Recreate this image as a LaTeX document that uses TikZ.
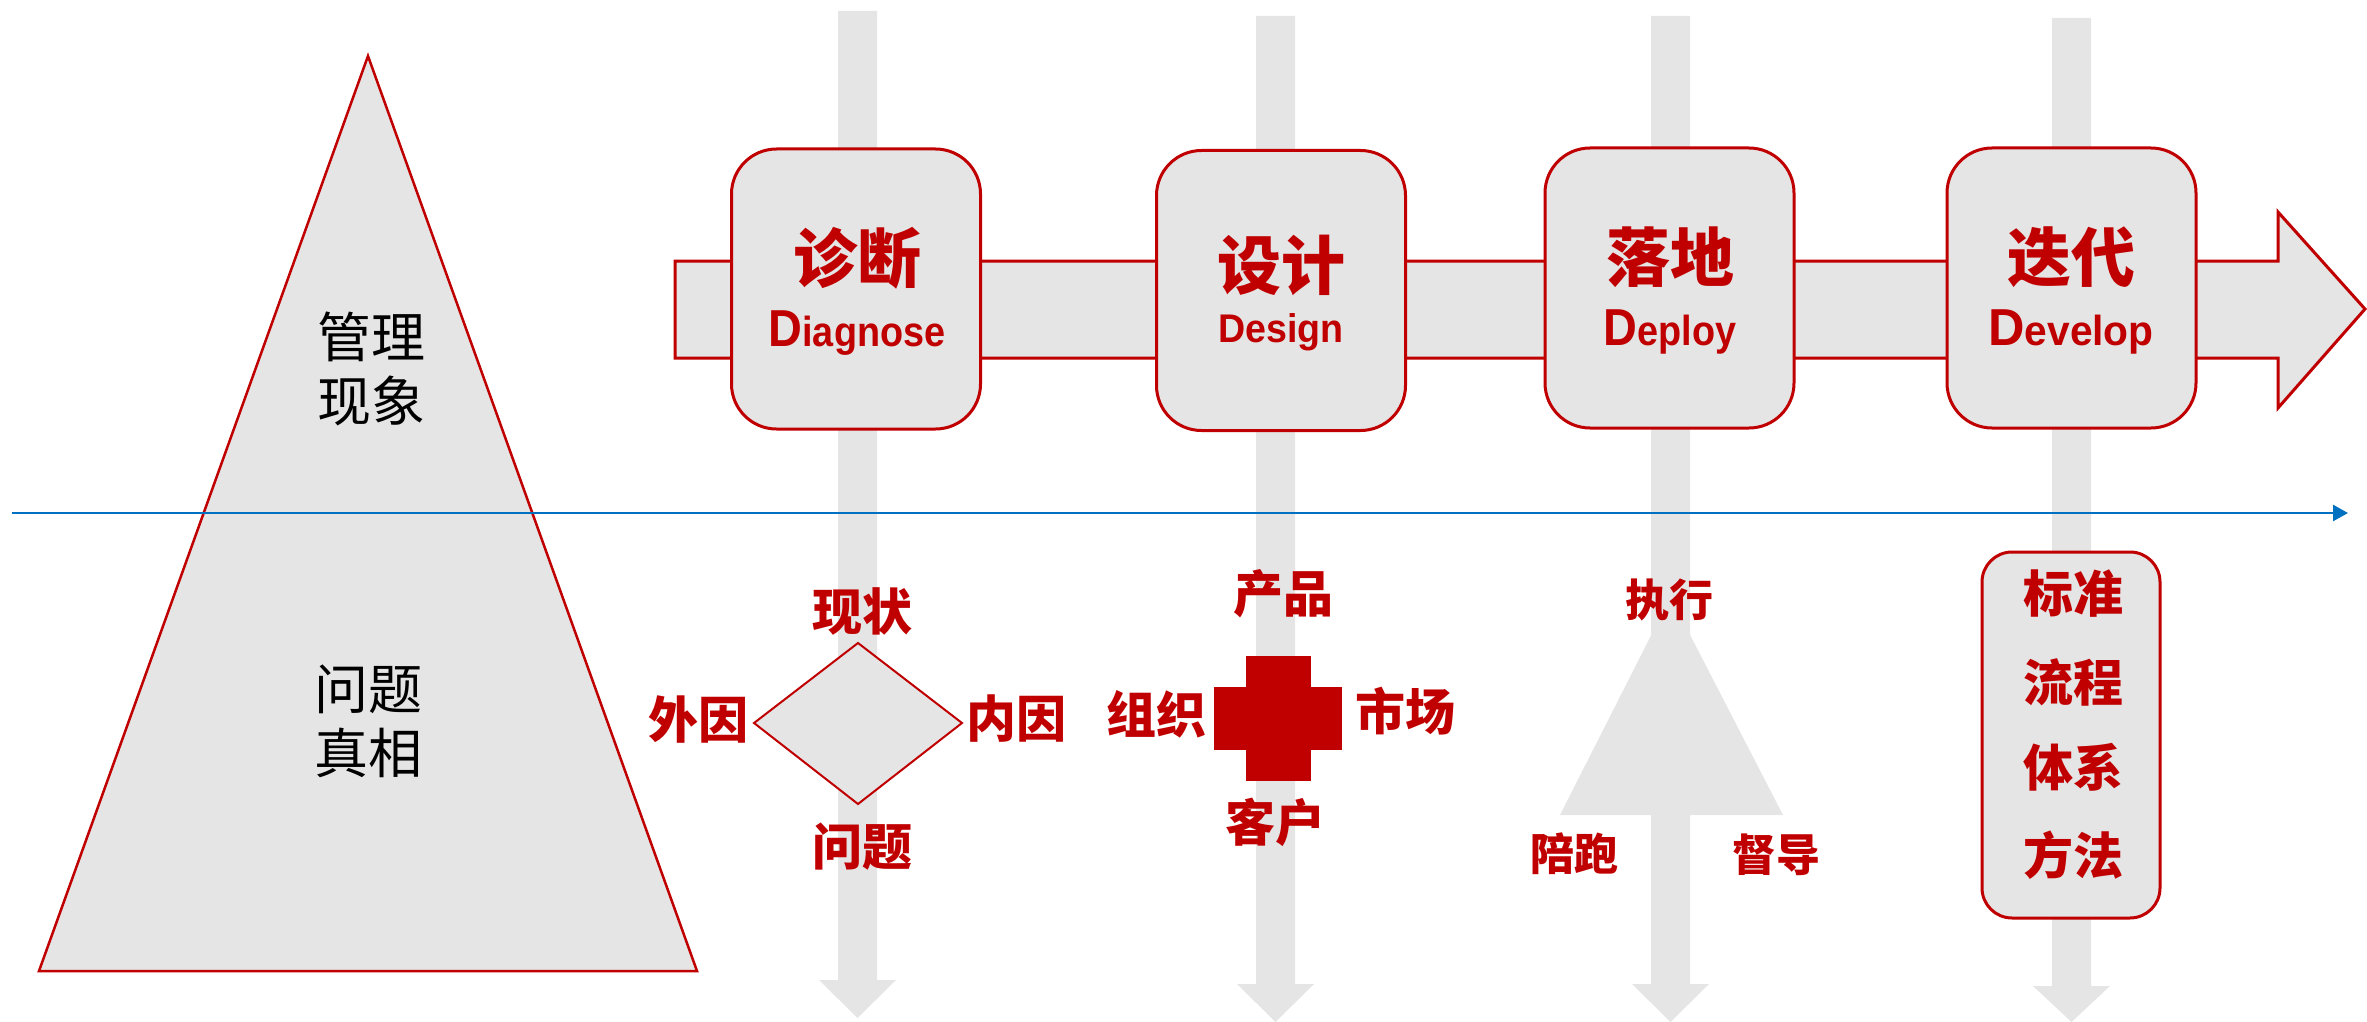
\documentclass[tikz,border=0pt]{standalone}
\usepackage{fontspec}
\setmainfont{Liberation Sans}
\newfontfamily\cjk{Noto Sans CJK SC}
\usetikzlibrary{arrows.meta}
\definecolor{cred}{HTML}{C00000}
\definecolor{lgray}{HTML}{E5E5E5}
\definecolor{cblue}{HTML}{0070C0}
\newcommand\bigD{{\fontsize{52}{52}\selectfont D}}
\tikzset{
  gbar/.style={fill=lgray, draw=none},
  stagebox/.style={draw=cred, line width=3pt, fill=lgray, rounded corners=45pt,
    minimum width=249pt, minimum height=280pt, inner sep=0pt},
  ttl/.style={text=cred, inner sep=0pt, font=\cjk\bfseries\fontsize{64}{64}\selectfont},
  sub/.style={text=cred, inner sep=0pt, anchor=base, font=\bfseries\fontsize{42}{42}\selectfont},
  lbl/.style={text=cred, inner sep=0pt, font=\cjk\bfseries\fontsize{50}{50}\selectfont},
  slbl/.style={text=cred, inner sep=0pt, font=\cjk\bfseries\fontsize{44}{44}\selectfont},
  blk/.style={text=black, inner sep=0pt, align=center, font=\cjk\fontsize{54}{64}\selectfont},
  redshape/.style={draw=cred, line width=2.5pt, fill=lgray},
}
\begin{document}
\begin{tikzpicture}[x=1pt,y=-1pt]
\useasboundingbox (0,0) rectangle (2367,1022);
% vertical gray arrows
\foreach \cx/\tp/\hb/\tip in {857.5/11/980/1018, 1275.5/16/984/1022, 1670.5/16/984/1022, 2071.5/18/986/1022}{
  \fill[gbar] (\cx-19.5,\tp) -- (\cx+19.5,\tp) -- (\cx+19.5,\hb) -- (\cx+38.5,\hb) -- (\cx,\tip)
    -- (\cx-38.5,\hb) -- (\cx-19.5,\hb) -- cycle;
}
% pyramid
\draw[redshape] (368,56) -- (697,971) -- (39,971) -- cycle;
\node[blk] (top) at (371,369) {管理\\现象};
\node[blk] (bot) at (368,721) {问题\\真相};
% big horizontal arrow
\draw[draw=cred, line width=3pt, fill=lgray, line join=miter]
  (675,261) -- (2278,261) -- (2278,212) -- (2365,309) -- (2278,408) -- (2278,358) -- (675,358) -- cycle;
% stage boxes
\node[stagebox] (s1) at (856,289) {};
\node[stagebox] (s2) at (1281,290.5) {};
\node[stagebox] (s3) at (1669.5,288) {};
\node[stagebox] (s4) at (2071.5,288) {};
\node[ttl] (t1) at (857,258) {诊断};
\node[ttl] (t2) at (1281,265) {设计};
\node[ttl] (t3) at (1670,257) {落地};
\node[ttl] (t4) at (2071,257) {迭代};
\node[sub] (d1) at (857,346) {\scalebox{0.9}[1]{\bigD iagnose}};
\node[sub, font=\bfseries\fontsize{40}{40}\selectfont] (d2) at (1281,342) {\scalebox{0.94}[1]{Design}};
\node[sub] (d3) at (1670,345) {\scalebox{0.9}[1]{\bigD eploy}};
\node[sub] (d4) at (2071,345) {\scalebox{0.97}[1]{\bigD evelop}};
% diagnose diamond
\draw[redshape, line width=2pt] (858,643) -- (962,723) -- (858,804) -- (754,723) -- cycle;
\node[lbl] (l1) at (862,611) {现状};
\node[lbl] (l2) at (862,847) {问题};
\node[lbl] (l3) at (698,719) {外因};
\node[lbl] (l4) at (1016,719) {内因};
% design cross
\fill[cred] (1246,656) rectangle (1311,781);
\fill[cred] (1214,687) rectangle (1342,750);
\node[lbl] (c1) at (1283,594) {产品};
\node[lbl] (c2) at (1275,822) {客户};
\node[lbl] (c3) at (1156,714) {组织};
\node[lbl] (c4) at (1405,711) {市场};
% deploy triangle
\fill[gbar] (1670.5,597) -- (1783,815) -- (1560,815) -- cycle;
\node[slbl] (e1) at (1669,600) {执行};
\node[slbl] (e2) at (1574,854) {陪跑};
\node[slbl] (e3) at (1776,855) {督导};
% develop box
\node[draw=cred, line width=3pt, fill=lgray, rounded corners=30pt, minimum width=178pt,
  minimum height=366pt, inner sep=0pt] (vb) at (2071,735) {};
\node[lbl] (v1) at (2073,594) {标准};
\node[lbl] (v2) at (2073,682) {流程};
\node[lbl] (v3) at (2073,767) {体系};
\node[lbl] (v4) at (2073,855) {方法};
% blue line
\coordinate (bs) at (12,513);
\coordinate (be) at (2348,513);
\draw[cblue, line width=2.5pt, -{Triangle[length=15pt,width=16pt]}] (bs) -- (be);
\end{tikzpicture}
\end{document}
